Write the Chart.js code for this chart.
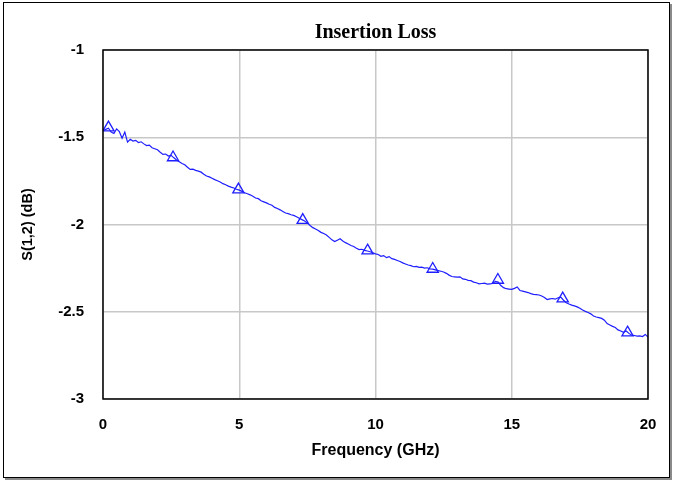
<!DOCTYPE html>
<html>
<head>
<meta charset="utf-8">
<script src="https://cdn.jsdelivr.net/npm/chart.js@4.4.1/dist/chart.umd.min.js"></script>
<style>
  html, body { margin: 0; padding: 0; background: #fff; }
  #wrap { position: relative; width: 674px; height: 482px; }
  #frame { position: absolute; left: 3px; top: 2px; width: 665px; height: 474px; border: 1px solid #000; box-shadow: 2px 2px 0 #8a8a8a; pointer-events: none; }
  canvas { position: absolute; left: 0; top: 0; }
</style>
</head>
<body>
<div id="wrap">
  <div id="frame"></div>
  <canvas id="c" width="674" height="482"></canvas>
</div>
<script>
// Frequency (GHz), step 0.1
const freqStart = 0, freqStep = 0.1;
const s12 = [
 -1.462,-1.455,-1.448,-1.470,-1.478,-1.452,-1.468,-1.505,-1.470,-1.528,
 -1.512,-1.522,-1.518,-1.530,-1.526,-1.538,-1.548,-1.545,-1.560,-1.566,
 -1.572,-1.586,-1.598,-1.596,-1.608,-1.604,-1.618,-1.630,-1.641,-1.650,
 -1.658,-1.672,-1.684,-1.683,-1.690,-1.694,-1.700,-1.712,-1.722,-1.727,
 -1.735,-1.743,-1.749,-1.756,-1.766,-1.772,-1.780,-1.786,-1.791,-1.798,
 -1.803,-1.810,-1.818,-1.824,-1.830,-1.838,-1.848,-1.852,-1.864,-1.870,
 -1.876,-1.884,-1.890,-1.902,-1.908,-1.916,-1.925,-1.934,-1.938,-1.944,
 -1.948,-1.956,-1.964,-1.972,-1.980,-1.992,-2.006,-2.018,-2.026,-2.034,
 -2.045,-2.052,-2.060,-2.074,-2.088,-2.098,-2.090,-2.082,-2.094,-2.104,
 -2.112,-2.120,-2.126,-2.136,-2.144,-2.142,-2.148,-2.152,-2.156,-2.162,
 -2.168,-2.172,-2.182,-2.178,-2.190,-2.184,-2.196,-2.200,-2.206,-2.212,
 -2.220,-2.226,-2.232,-2.236,-2.242,-2.240,-2.246,-2.244,-2.250,-2.248,
 -2.254,-2.256,-2.260,-2.264,-2.268,-2.272,-2.280,-2.290,-2.298,-2.300,
 -2.302,-2.300,-2.312,-2.314,-2.320,-2.322,-2.330,-2.334,-2.340,-2.338,
 -2.336,-2.342,-2.340,-2.338,-2.326,-2.330,-2.350,-2.362,-2.368,-2.370,
 -2.372,-2.366,-2.358,-2.378,-2.382,-2.386,-2.390,-2.396,-2.400,-2.402,
 -2.404,-2.410,-2.418,-2.430,-2.426,-2.424,-2.428,-2.420,-2.416,-2.434,
 -2.448,-2.456,-2.462,-2.466,-2.472,-2.480,-2.490,-2.498,-2.504,-2.512,
 -2.524,-2.530,-2.534,-2.538,-2.548,-2.568,-2.576,-2.584,-2.590,-2.604,
 -2.610,-2.618,-2.610,-2.624,-2.634,-2.636,-2.640,-2.638,-2.642,-2.630,
 -2.645
];
const markerFreq = [0.2, 2.57, 4.97, 7.33, 9.71, 12.1, 14.49, 16.87, 19.25];
const markerS12  = [-1.445, -1.616, -1.80, -1.975, -2.15, -2.255, -2.318, -2.425, -2.62];
const xTicks = [0, 5, 10, 15, 20];
const yTicks = [-1, -1.5, -2, -2.5, -3];

const lineData = s12.map((v, i) => ({ x: +(freqStart + i * freqStep).toFixed(2), y: v }));
const markData = markerFreq.map((f, i) => ({ x: f, y: markerS12[i] }));

const SANS = '"Liberation Sans", Arial, sans-serif';

const frame = {
  id: 'frame',
  afterDatasetsDraw(chart) {
    const a = chart.chartArea, ctx = chart.ctx;
    ctx.save();
    ctx.strokeStyle = '#000';
    ctx.lineWidth = 1.5;
    ctx.strokeRect(a.left, a.top, a.right - a.left, a.bottom - a.top);
    ctx.restore();
  }
};

new Chart(document.getElementById('c'), {
  type: 'scatter',
  data: {
    datasets: [
      { data: lineData, showLine: true, borderColor: 'rgb(30,30,255)', borderWidth: 1.2,
        pointRadius: 0, tension: 0, order: 2 },
      { data: markData, showLine: false, pointStyle: 'triangle', pointRadius: 6.5,
        borderColor: 'rgb(30,30,255)', backgroundColor: 'rgba(0,0,0,0)', borderWidth: 1.3, order: 1 }
    ]
  },
  options: {
    responsive: false,
    animation: false,
    events: [],
    layout: { padding: { left: 0, right: 26, top: 0, bottom: 0 } },
    plugins: {
      legend: { display: false },
      tooltip: { enabled: false },
      title: {
        display: true, text: 'Insertion Loss', color: '#000', fullSize: false,
        font: { family: '"Liberation Serif", "Times New Roman", serif', size: 20, weight: 'bold', lineHeight: 1.2 },
        padding: { top: 21, bottom: 5 }
      }
    },
    scales: {
      x: {
        type: 'linear', min: 0, max: 20,
        afterBuildTicks(s) { s.ticks = xTicks.map(v => ({ value: v })); },
        afterFit(s) { s.height = 83; },
        grid: { color: '#c8c8c8', lineWidth: 1.5, drawTicks: false },
        border: { display: false },
        ticks: { color: '#000', padding: 17, maxRotation: 0, callback: v => String(v),
          font: { family: SANS, size: 15, weight: 'bold' } },
        title: { display: true, text: 'Frequency (GHz)', color: '#000',
          font: { family: SANS, size: 16, weight: 'bold', lineHeight: 1.2 },
          padding: { top: 0, bottom: 22 } }
      },
      y: {
        type: 'linear', min: -3, max: -1,
        afterBuildTicks(s) { s.ticks = yTicks.map(v => ({ value: v })); },
        afterFit(s) { s.width = 103; },
        grid: { color: '#c8c8c8', lineWidth: 1.5, drawTicks: false },
        border: { display: false },
        ticks: { color: '#000', padding: 19, callback: v => String(v),
          font: { family: SANS, size: 15, weight: 'bold' } },
        title: { display: true, text: 'S(1,2) (dB)', color: '#000',
          font: { family: SANS, size: 14.5, weight: 'bold', lineHeight: 1.2 },
          padding: { top: 19, bottom: 0 } }
      }
    }
  },
  plugins: [frame]
});
</script>
</body>
</html>
